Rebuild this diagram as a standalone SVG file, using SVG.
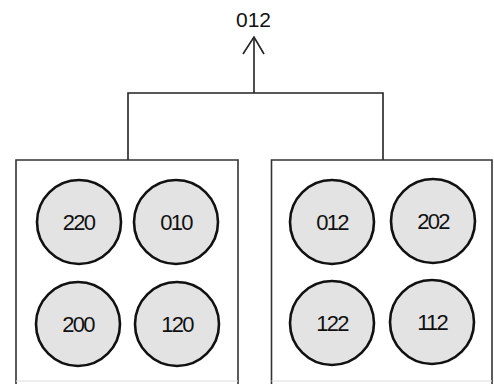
<svg xmlns="http://www.w3.org/2000/svg" width="494" height="384" viewBox="0 0 494 384">
<style>
.box{fill:#fff;stroke:#333;stroke-width:1.6}
.wire{fill:none;stroke:#222;stroke-width:1.6}
.c{fill:#e3e3e3;stroke:#111;stroke-width:2.6}
.t{font-family:"Liberation Sans",Arial,sans-serif;font-size:22px;fill:#111;text-anchor:middle;letter-spacing:-1.8px}
.top{font-family:"Liberation Sans",Arial,sans-serif;font-size:21px;fill:#111;text-anchor:middle}
</style>
<rect width="494" height="384" fill="#fff"/>
<g id="connectors">
<path class="wire" d="M128,160 V93 H383 V160 M254,93 V37"/>
<path class="wire" d="M243,54 L254,37 L264,54"/>
</g>
<text class="top" x="253.5" y="26.5">012</text>
<g id="box-left">
<path class="box" d="M16,384 V160 H238 V384"/>
<line x1="16" y1="381" x2="238" y2="381" stroke="#ddd" stroke-width="1"/>
</g>
<g id="box-right">
<path class="box" d="M271.5,384 V160 H492 V384"/>
<line x1="271.5" y1="381" x2="492" y2="381" stroke="#ddd" stroke-width="1"/>
</g>
<g id="n220"><circle class="c" cx="79" cy="222" r="42"/><text class="t" x="78.5" y="229.5">220</text></g>
<g id="n010"><circle class="c" cx="176" cy="222" r="42"/><text class="t" x="176" y="229.5">010</text></g>
<g id="n200"><circle class="c" cx="78" cy="324" r="42"/><text class="t" x="78" y="331.5">200</text></g>
<g id="n120"><circle class="c" cx="177" cy="324" r="42"/><text class="t" x="177" y="331.5">120</text></g>
<g id="n012"><circle class="c" cx="332" cy="222" r="42"/><text class="t" x="332" y="229.5">012</text></g>
<g id="n202"><circle class="c" cx="433" cy="221" r="42"/><text class="t" x="433" y="228.5">202</text></g>
<g id="n122"><circle class="c" cx="332" cy="323" r="42"/><text class="t" x="332" y="330.5">122</text></g>
<g id="n112"><circle class="c" cx="432" cy="322" r="42"/><text class="t" x="432" y="329.5">112</text></g>
</svg>
